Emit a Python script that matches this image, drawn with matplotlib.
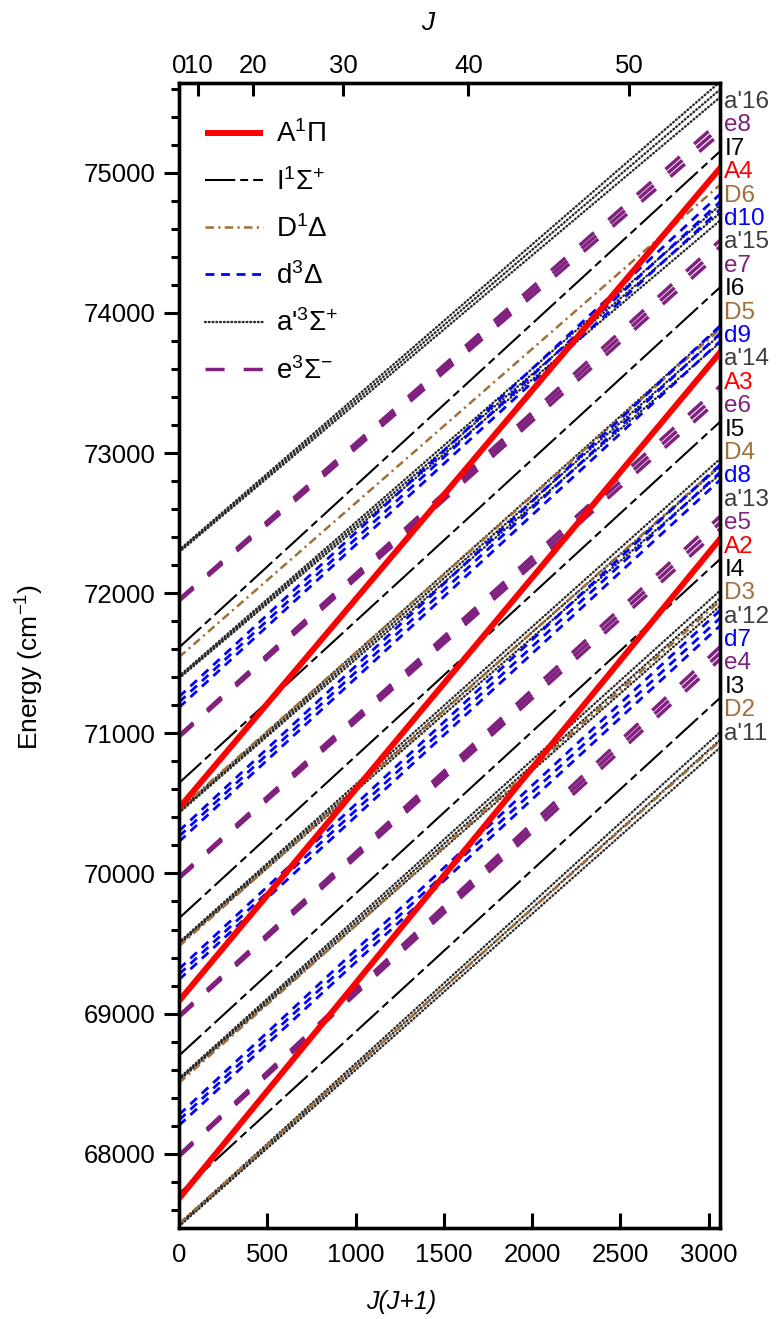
import matplotlib
matplotlib.use('Agg')
import matplotlib.pyplot as plt
from matplotlib.lines import Line2D
from matplotlib.ticker import MultipleLocator, StrMethodFormatter
import numpy as np

plt.rcParams['font.family'] = ['Liberation Sans', 'DejaVu Sans']
plt.rcParams['mathtext.fontset'] = 'custom'
plt.rcParams['mathtext.rm'] = 'Liberation Sans'
plt.rcParams['mathtext.it'] = 'Liberation Sans:italic'
plt.rcParams['mathtext.bf'] = 'Liberation Sans:bold'

# J(J+1) at J = 0 and J = 55, where the term values were read
jj = [0, 3080]

# term energies (cm-1) at J=0 and at J=55
A_start = [67680, 69090, 70466]            # A1Pi v=2..4
A_end = [72410, 73740, 75055]
I_start = [67715, 68700, 69680, 70645, 71612]   # I v=3..7
I_end = [71270, 72260, 73240, 74200, 75170]
D_start = [67500, 68505, 69480, 70455, 71543]   # D v=2..6
D_end = [70960, 71960, 72930, 73900, 74930]
d_start = [68240, 69280, 70265, 71222]          # d v=7..10 (centre component)
d_end = [71840, 72880, 73870, 74810]
ap_start = [67490, 68530, 69500, 70440, 71400, 72300]   # a' v=11..16
ap_end = [70970, 71980, 72920, 73860, 74730, 75610]
e_start = [67985, 68980, 69970, 70978, 71950]   # e v=4..8
e_end = [71590, 72520, 73450, 74490, 75340]

# spin component separations (start, end)
d_split = (38, 55)
ap_split = (8, 55)
e_split = (6, 45)

level_labels = ["a'16", 'e8', 'I7', 'A4', 'D6', 'd10', "a'15", 'e7', 'I6', 'D5',
                'd9', "a'14", 'A3', 'e6', 'I5', 'D4', 'd8', "a'13", 'e5', 'A2',
                'I4', 'D3', "a'12", 'd7', 'e4', 'I3', 'D2', "a'11"]

red = '#FF0000'
brown = '#A0703C'
blue = '#0000FF'
purple = '#80207F'
gray = '#3C3C3C'

sty_A = dict(color=red, lw=4.3, solid_capstyle='butt', zorder=5)
sty_I = dict(color='black', lw=1.5, dashes=(14.5, 2.4, 3.8, 2.4), zorder=4)
sty_D = dict(color=brown, lw=1.8, dashes=(3.4, 1.7, 0.9, 1.7), zorder=3)
sty_d = dict(color=blue, lw=2.0, dashes=(3.2, 2.4), zorder=3)
sty_ap = dict(color='#2a2a2a', lw=1.7, dashes=(0.35, 1.25), dash_capstyle='round', zorder=2)
sty_e = dict(color=purple, lw=2.5, dashes=(5.5, 5.5), zorder=3)


def draw_state(ax, starts, ends, style, split=None):
    comps = (-1, 0, 1) if split else (0,)
    for s, e in zip(starts, ends):
        for k in comps:
            if split:
                ax.plot(jj, [s + k * split[0], e + k * split[1]], **style)
            else:
                ax.plot(jj, [s, e], **style)


fig = plt.figure(figsize=(7.8, 13.19), dpi=100)
ax = fig.add_axes([0.2295, 0.069, 0.6936, 0.868])

draw_state(ax, ap_start, ap_end, sty_ap, ap_split)
draw_state(ax, D_start, D_end, sty_D)
draw_state(ax, d_start, d_end, sty_d, d_split)
draw_state(ax, e_start, e_end, sty_e, e_split)
draw_state(ax, I_start, I_end, sty_I)
draw_state(ax, A_start, A_end, sty_A)

ax.set_xlim(0, 3065)
ax.set_ylim(67470, 75640)

ax.xaxis.set_major_locator(MultipleLocator(500))
ax.yaxis.set_major_locator(MultipleLocator(1000))
ax.yaxis.set_minor_locator(MultipleLocator(200))
ax.yaxis.set_major_formatter(StrMethodFormatter('{x:.0f}'))
ax.tick_params(axis='y', which='major', direction='out', length=11, width=2.2,
               labelsize=18.5, pad=6, right=False)
ax.tick_params(axis='y', which='minor', direction='out', length=6, width=2.2, right=False)
ax.tick_params(axis='x', which='major', direction='in', length=11, width=2.2,
               labelsize=18.5, pad=11, top=False)
for sp in ax.spines.values():
    sp.set_linewidth(2.4)

ax.set_xlabel('J(J+1)', fontsize=18, style='italic')
ax.xaxis.set_label_coords(0.41, -0.054)
ax.set_ylabel('Energy (cm$^{-1}$)', fontsize=19)
ax.yaxis.set_label_coords(-0.245, 0.49)

# top axis in J
J_ticks = [0, 10, 20, 30, 40, 50]
ax2 = ax.twiny()
ax2.set_xlim(ax.get_xlim())
ax2.set_xticks([j * (j + 1) for j in J_ticks])
ax2.set_xticklabels([str(j) for j in J_ticks])
ax2.tick_params(axis='x', direction='in', length=9, width=2.2, labelsize=18.5, pad=4)
ax2.set_xlabel('J', fontsize=19, style='italic')
ax2.xaxis.set_label_coords(0.46, 1.046)
for sp in ax2.spines.values():
    sp.set_linewidth(2.4)

# legend
handles = [Line2D([], [], **{k: v for k, v in s.items() if k != 'zorder'})
           for s in (sty_A, sty_I, sty_D, sty_d, sty_ap, sty_e)]
names = ['A$^{1}$Π', 'I$^{1}$Σ$^{+}$', 'D$^{1}$Δ', 'd$^{3}$Δ',
         "a'$^{3}$Σ$^{+}$", 'e$^{3}$Σ$^{-}$']
ax.legend(handles, names, loc='upper left', bbox_to_anchor=(0.027, 0.977),
          frameon=False, fontsize=20, handlelength=2.1, handletextpad=0.45,
          labelspacing=0.7, borderaxespad=0)

# level labels on the right
label_colors = {'a': gray, 'e': purple, 'I': 'black', 'A': red, 'D': brown, 'd': blue}
ys = np.linspace(0.9834, 0.4318, len(level_labels))
for lab, y in zip(level_labels, ys):
    ax.text(1.008, y, lab, transform=ax.transAxes, fontsize=17.5, va='center',
            ha='left', color=label_colors[lab[0]], clip_on=False)

fig.savefig('out.png', dpi=100)
